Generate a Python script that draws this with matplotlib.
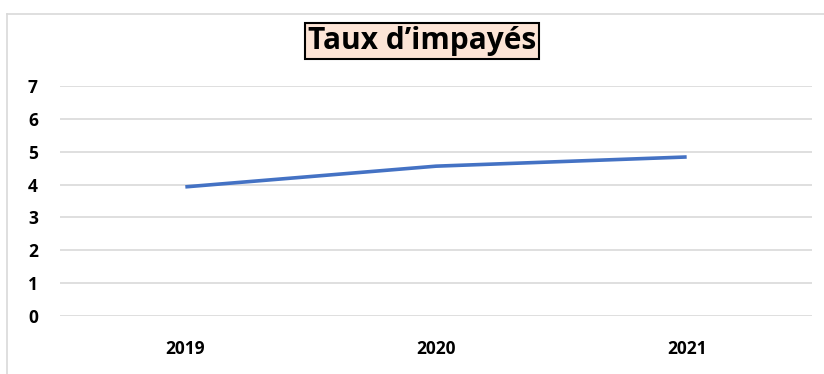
import matplotlib.pyplot as plt
from matplotlib.lines import Line2D

# Unpaid rate per year
years = ['2019', '2020', '2021']
taux = [3.93, 4.56, 4.84]
y_ticks = [0, 1, 2, 3, 4, 5, 6, 7]

plt.rcParams['font.family'] = ['Open Sans', 'DejaVu Sans']

fig = plt.figure(figsize=(8.24, 3.74), dpi=100)
ax = fig.add_axes([60 / 824, 58 / 374, 752 / 824, 230 / 374])

ax.plot(range(len(years)), taux, color='#4472C4', linewidth=2.6, solid_capstyle='butt')

ax.set_xlim(-0.5, len(years) - 0.5)
ax.set_ylim(0, 7)
ax.set_xticks(range(len(years)))
ax.set_xticklabels(years, fontsize=12.5, fontweight='bold')
ax.set_yticks(y_ticks)
ax.set_yticklabels([str(v) for v in y_ticks], fontsize=12.5, fontweight='bold')
ax.tick_params(axis='both', length=0, colors='black')
ax.tick_params(axis='x', pad=17)
ax.tick_params(axis='y', pad=16)

ax.grid(axis='y', color='#D9D9D9', linewidth=1.2)
ax.set_axisbelow(True)
for s in ax.spines.values():
    s.set_visible(False)

# light frame around the chart area (top and left only)
fig.add_artist(Line2D([7 / 824, 1], [1 - 14 / 374, 1 - 14 / 374], transform=fig.transFigure,
                      color='#D9D9D9', linewidth=1.2))
fig.add_artist(Line2D([7 / 824, 7 / 824], [0, 1 - 14 / 374], transform=fig.transFigure,
                      color='#D9D9D9', linewidth=1.2))

fig.text(422 / 824, 1 - 41 / 374, 'Taux d\u2019impayés', ha='center', va='center',
         fontsize=21.5, fontweight='bold',
         bbox=dict(boxstyle='square,pad=0.1', facecolor='#FCE4D6', edgecolor='black', linewidth=1.5))

fig.savefig('out.png', dpi=100)
